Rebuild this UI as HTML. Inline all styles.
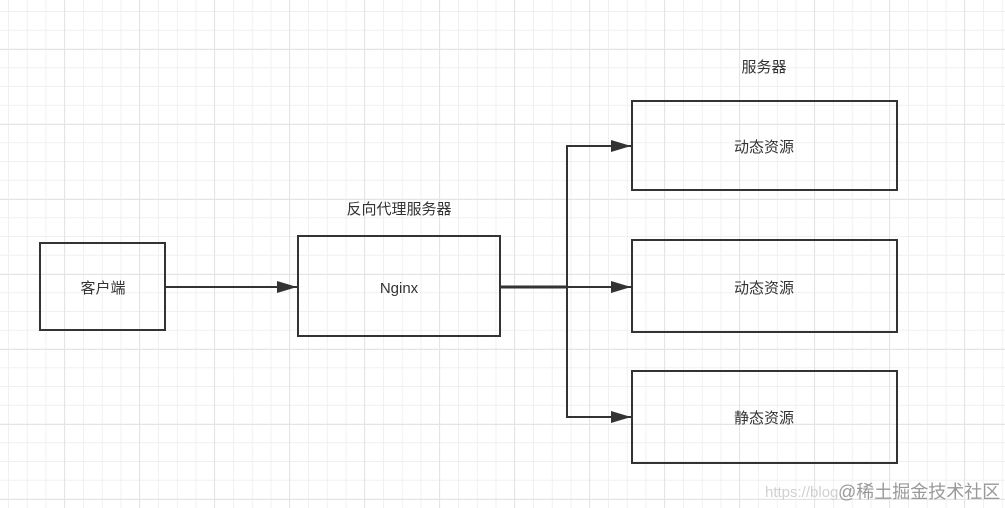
<!DOCTYPE html>
<html><head><meta charset="utf-8"><style>
html,body{margin:0;padding:0;width:1005px;height:508px;overflow:hidden;background:#fff;}
body{background-image:
linear-gradient(to right,#e4e4e4 1px,transparent 1px),
linear-gradient(to bottom,#e4e4e4 1px,transparent 1px),
linear-gradient(to right,#f0f0f0 1px,transparent 1px),
linear-gradient(to bottom,#f0f0f0 1px,transparent 1px);
background-size:75px 75px,75px 75px,18.75px 18.75px,18.75px 18.75px;
background-position:64px 0,0 49px,8px 0,0 11px;}
svg{position:absolute;left:0;top:0}
text{font-family:"Liberation Sans","Noto Sans CJK SC",sans-serif;font-size:15px;fill:#333}
</style></head><body>
<svg width="1005" height="508">
<defs><marker id="a" markerWidth="10" markerHeight="10" refX="9" refY="5" orient="auto" markerUnits="userSpaceOnUse"><path d="M0,0 L19,5 L0,10 z" fill="#333" transform="scale(0.5,1)"/></marker>
<marker id="b" viewBox="0 0 20 12" markerWidth="20" markerHeight="12" refX="20" refY="6" orient="auto" markerUnits="userSpaceOnUse"><path d="M0,0 L20,6 L0,12 z" fill="#333"/></marker></defs>
<g fill="none" stroke="#333" stroke-width="2">
<rect x="40" y="243" width="125" height="87"/>
<rect x="298" y="236" width="202" height="100"/>
<rect x="632" y="101" width="265" height="89"/>
<rect x="632" y="240" width="265" height="92"/>
<rect x="632" y="371" width="265" height="92"/>
<line x1="166" y1="287" x2="297" y2="287" marker-end="url(#b)"/>
<line x1="501" y1="287" x2="567" y2="287" stroke-width="3"/>
<line x1="567" y1="145" x2="567" y2="417"/>
<line x1="566" y1="146" x2="631" y2="146" marker-end="url(#b)"/>
<line x1="567" y1="287" x2="631" y2="287" marker-end="url(#b)"/>
<line x1="566" y1="417" x2="631" y2="417" marker-end="url(#b)"/>
</g>
<g text-anchor="middle">
<text x="103" y="293">客户端</text>
<text x="399" y="293">Nginx</text>
<text x="399" y="214">反向代理服务器</text>
<text x="764" y="72">服务器</text>
<text x="764" y="152">动态资源</text>
<text x="764" y="293">动态资源</text>
<text x="764" y="423">静态资源</text>
</g>
<text x="765" y="497" style="font-size:15px;fill:#d0d0d0">https://blog</text>
<text x="838" y="498" style="font-size:18px;fill:#999">@稀土掘金技术社区</text>
</svg>
</body></html>
